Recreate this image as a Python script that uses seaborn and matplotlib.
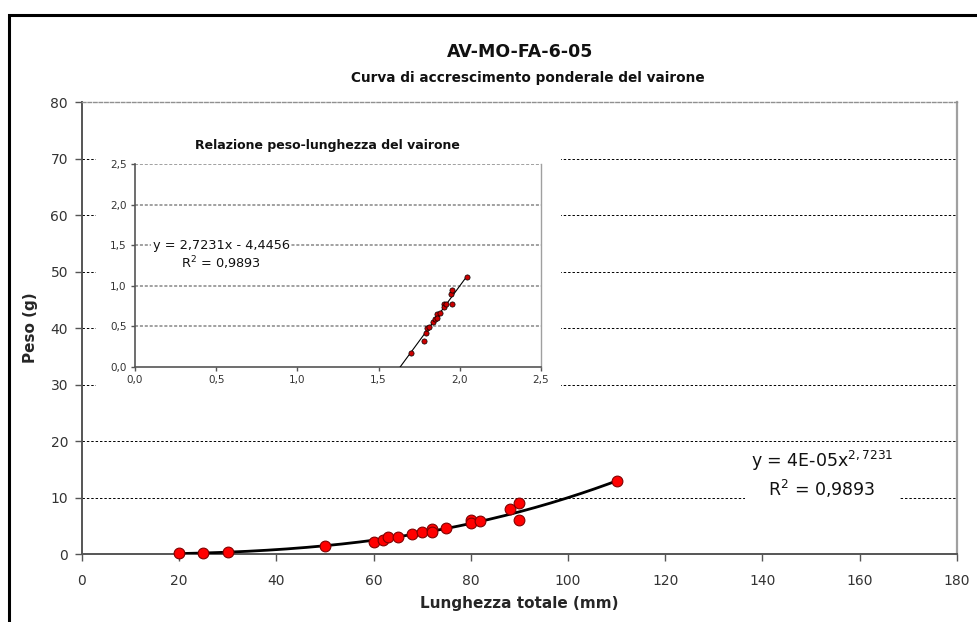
import numpy as np
import pandas as pd
import seaborn as sns
import matplotlib.pyplot as plt
from matplotlib.patches import Rectangle

# lunghezza totale (mm) e peso (g) dei vaironi
lunghezza = [20, 25, 30, 50, 60, 62, 63, 65, 68, 70, 72, 72, 75, 80, 80, 82, 88, 90, 90, 110]
peso = [0.2, 0.25, 0.45, 1.5, 2.1, 2.6, 3.0, 3.1, 3.6, 3.9, 4.5, 4.0, 4.6, 6.0, 5.5, 5.9, 8.0, 9.0, 6.0, 13.0]

# coefficienti della linea di tendenza (log W = b log L + log a)
pend = 2.7231
interc = -4.4456

main_xticks = [0, 20, 40, 60, 80, 100, 120, 140, 160, 180]
main_yticks = [0, 10, 20, 30, 40, 50, 60, 70, 80]
ins_ticks = [0.0, 0.5, 1.0, 1.5, 2.0, 2.5]
ins_labels = ['0,0', '0,5', '1,0', '1,5', '2,0', '2,5']

sns.set_style('white')
plt.rcParams['font.family'] = ['DejaVu Sans']

df = pd.DataFrame({'L': lunghezza, 'W': peso})
df['logL'] = np.log10(df['L'])
df['logW'] = np.log10(df['W'])

xs = np.linspace(df['L'].min(), df['L'].max(), 200)
fit = pd.DataFrame({'L': xs, 'W': 10 ** interc * xs ** pend})
lx = np.linspace(df['logL'].min(), df['logL'].max(), 50)
fit_log = pd.DataFrame({'x': lx, 'y': pend * lx + interc})

fig = plt.figure(figsize=(9.78, 6.22), dpi=100)

# cornice esterna
fig.add_artist(Rectangle((9 / 978, -0.1), 1.2, 1 - 15 / 622 + 0.1, transform=fig.transFigure,
                         fill=False, edgecolor='black', linewidth=2.2, zorder=0))

ax = fig.add_axes([82 / 978, 1 - 554.3 / 622, 874.7 / 978, 452.3 / 622], zorder=1)
ax.set_facecolor('none')
sns.lineplot(data=fit, x='L', y='W', ax=ax, color='black', linewidth=2.0, zorder=3)
sns.scatterplot(data=df, x='L', y='W', ax=ax, color='#FF0000', edgecolor='#800000',
                linewidth=0.8, s=60, zorder=4, clip_on=False)
ax.set_xlim(0, 180)
ax.set_ylim(0, 80)
ax.set_xticks(main_xticks)
ax.set_yticks(main_yticks)
for v in main_yticks[1:-1]:
    ax.axhline(v, color='black', linewidth=0.7, linestyle=(0, (2.5, 2)), zorder=1)
ax.tick_params(axis='both', direction='out', length=5, width=1, color='#555555',
               labelsize=10, colors='#333333', left=True, bottom=True)
ax.tick_params(axis='x', pad=9)
ax.tick_params(axis='y', pad=5)
for s in ['left', 'bottom']:
    ax.spines[s].set_color('#555555')
    ax.spines[s].set_linewidth(1.4)
ax.spines['right'].set_color('#A0A0A0')
ax.spines['right'].set_linewidth(1.6)
ax.spines['top'].set_color('#909090')
ax.spines['top'].set_linewidth(1.0)
ax.spines['top'].set_linestyle((0, (2.5, 1.5)))
ax.set_xlabel('Lunghezza totale (mm)', fontsize=11, fontweight='bold', labelpad=6)
ax.set_ylabel('Peso (g)', fontsize=11, fontweight='bold', labelpad=9)

ax.text(152.3, 14.1, 'y = 4E-05x$^{2,7231}$\nR$^{2}$ = 0,9893', ha='center', va='center',
        fontsize=12.5, linespacing=1.25, color='#111111', multialignment='center', zorder=5,
        bbox=dict(facecolor='white', edgecolor='none', pad=4))

fig.text(520 / 978, 1 - 52 / 622, 'AV-MO-FA-6-05', ha='center', va='center',
         fontsize=12.5, fontweight='bold', color='#111111')
fig.text(528 / 978, 1 - 78 / 622, 'Curva di accrescimento ponderale del vairone',
         ha='center', va='center', fontsize=9.8, fontweight='bold', color='#111111')

# riquadro del grafico interno
fig.add_artist(Rectangle((96 / 978, 1 - 392 / 622), 465 / 978, 267 / 622,
                         transform=fig.transFigure, facecolor='white', edgecolor='none', zorder=2))
ins = fig.add_axes([135 / 978, 1 - 367 / 622, 406 / 978, 202.7 / 622], zorder=3)
ins.set_facecolor('white')
for v in ins_ticks[1:]:
    ins.axhline(v, color='#888888', linewidth=1.1, linestyle=(0, (2, 1.2)), zorder=1)
sns.lineplot(data=fit_log, x='x', y='y', ax=ins, color='black', linewidth=0.8, zorder=3)
sns.scatterplot(data=df, x='logL', y='logW', ax=ins, color='#CC0000', edgecolor='black',
                linewidth=0.5, s=14, zorder=4)
ins.set_xlim(0, 2.5)
ins.set_ylim(0, 2.5)
ins.set_xticks(ins_ticks)
ins.set_xticklabels(ins_labels)
ins.set_yticks(ins_ticks)
ins.set_yticklabels(ins_labels)
ins.set_xlabel('')
ins.set_ylabel('')
ins.tick_params(axis='both', direction='out', length=3, width=1, color='#555555',
                labelsize=7.5, colors='#333333', left=True, bottom=True, pad=3)
for s in ['left', 'bottom']:
    ins.spines[s].set_color('#555555')
    ins.spines[s].set_linewidth(1.2)
ins.spines['right'].set_color('#A0A0A0')
ins.spines['right'].set_linewidth(1.0)
ins.spines['top'].set_visible(False)
fig.text(327 / 978, 1 - 145 / 622, 'Relazione peso-lunghezza del vairone', ha='center',
         va='center', fontsize=9, fontweight='bold', color='#111111', zorder=4)
ins.text(0.53, 1.50, 'y = 2,7231x - 4,4456', ha='center', va='center', fontsize=9.3,
         color='#111111', zorder=5, bbox=dict(facecolor='white', edgecolor='none', pad=1))
ins.text(0.53, 1.28, 'R$^{2}$ = 0,9893', ha='center', va='center', fontsize=9.3,
         color='#111111', zorder=5, bbox=dict(facecolor='white', edgecolor='none', pad=1))

fig.savefig('out.png', dpi=100)
